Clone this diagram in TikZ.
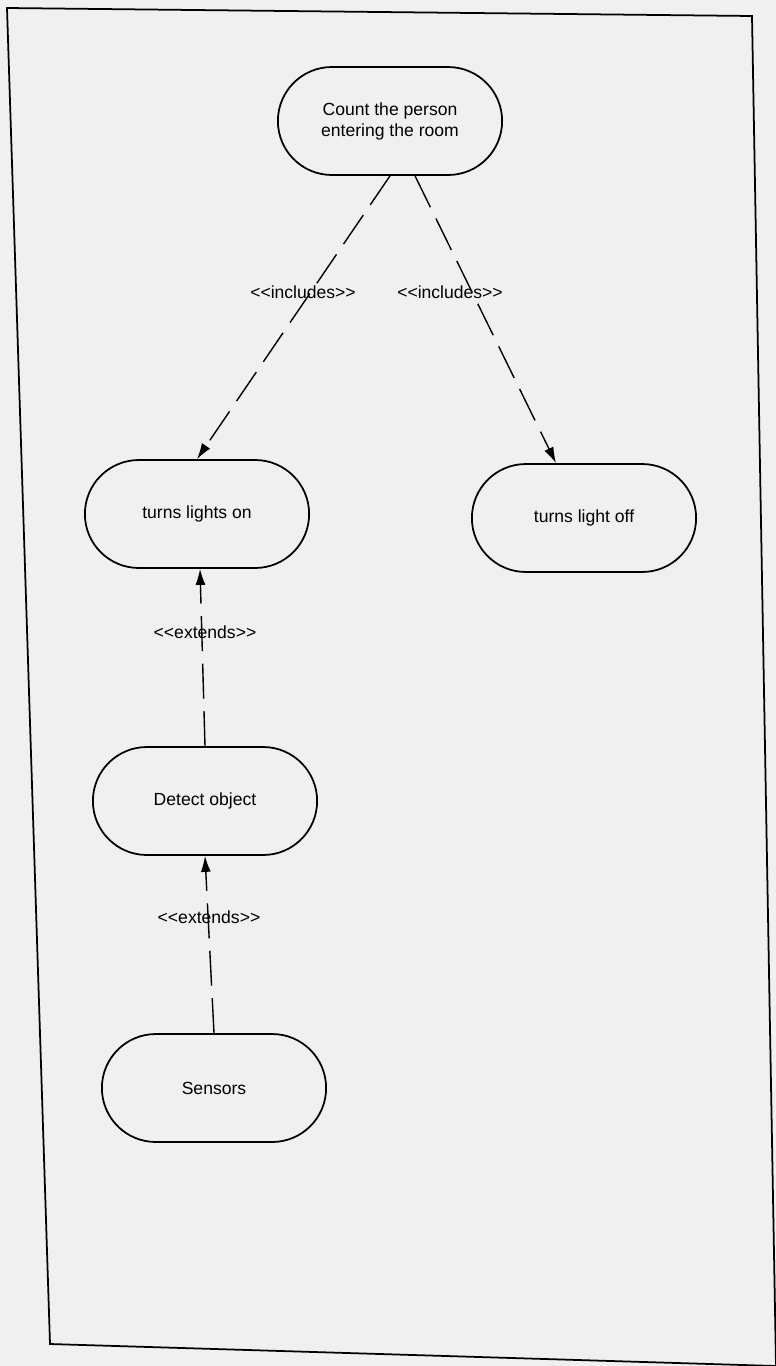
\documentclass[tikz,border=0pt]{standalone}
\usepackage{fontspec}
\setmainfont{Liberation Sans}
\usetikzlibrary{shapes.misc,arrows.meta}
\newcommand{\stereotype}[1]{<\kern0pt<#1>\kern0pt>}
\begin{document}
\begin{tikzpicture}[x=0.02cm, y=-0.02cm,
  usecase/.style={rounded rectangle, draw, line width=1pt, minimum width=4.72cm, minimum height=2.16cm, align=center, font=\normalsize},
  rel/.style={line width=0.8pt, dash pattern=on 0.7cm off 0.25cm, -{Latex[length=3.2mm,width=2mm]}},
  stereo/.style={font=\normalsize}
]
  % Sheet
  \fill[black!6] (0,0) rectangle (776,1366);
  \useasboundingbox (0,0) rectangle (776,1366);
  \draw[line width=1pt] (7,8) -- (752,16) -- (776,1366) -- (50,1344) -- cycle;

  % Use cases
  \node[usecase] (count) at (390,121) {Count the person\\entering the room};
  \node[usecase] (on) at (197,514) {turns lights on};
  \node[usecase] (off) at (584,518) {turns light off};
  \node[usecase] (detect) at (205,801) {Detect object};
  \node[usecase] (sensors) at (214,1088) {Sensors};

  % Includes
  \draw[rel] (count.south) -- (on.north);
  \draw[rel] ([xshift=0.5cm]count.south) -- ([xshift=-0.56cm]off.north);
  \node[stereo] (inc1) at (303,292) {\stereotype{includes}};
  \node[stereo] (inc2) at (450,292) {\stereotype{includes}};

  % Extends
  \draw[rel] (detect.north) -- ([xshift=0.06cm]on.south);
  \draw[rel] (sensors.north) -- (detect.south);
  \node[stereo] (ext1) at (205,632) {\stereotype{extends}};
  \node[stereo] (ext2) at (209,917) {\stereotype{extends}};
\end{tikzpicture}
\end{document}
